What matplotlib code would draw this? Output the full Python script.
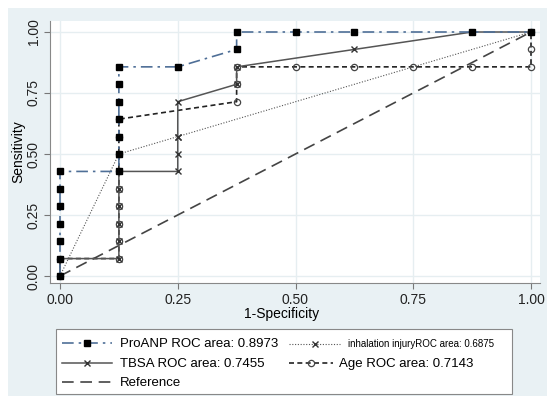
import matplotlib
matplotlib.use("Agg")
import matplotlib.pyplot as plt
from matplotlib.patches import Rectangle

plt.rcParams["font.family"] = ["Liberation Sans", "DejaVu Sans"]

# ---- data ----
s = 1.0 / 14
proanp_x = [0, 0, 0, 0, 0, 0, 0, 0.125, 0.125, 0.125, 0.125, 0.125, 0.125, 0.125, 0.25, 0.375, 0.375, 0.5, 0.625, 0.875, 1.0]
proanp_y = [0, 1*s, 2*s, 3*s, 4*s, 5*s, 6*s, 6*s, 7*s, 8*s, 9*s, 10*s, 11*s, 12*s, 12*s, 13*s, 1.0, 1.0, 1.0, 1.0, 1.0]

tbsa_x = [0, 0, 0.125, 0.125, 0.125, 0.125, 0.125, 0.125, 0.25, 0.25, 0.25, 0.25, 0.375, 0.375, 0.625, 0.875, 1.0]
tbsa_y = [0, 1*s, 1*s, 2*s, 3*s, 4*s, 5*s, 6*s, 6*s, 7*s, 8*s, 10*s, 11*s, 12*s, 13*s, 1.0, 1.0]

inh_x = [0, 0.125, 0.25, 1.0]
inh_y = [0, 7*s, 8*s, 1.0]

age_x = [0, 0, 0.125, 0.125, 0.125, 0.125, 0.125, 0.125, 0.125, 0.125, 0.125, 0.375, 0.375, 0.375, 0.5, 0.625, 0.75, 0.875, 1.0, 1.0, 1.0]
age_y = [0, 1*s, 1*s, 2*s, 3*s, 4*s, 5*s, 6*s, 7*s, 8*s, 9*s, 10*s, 11*s, 12*s, 12*s, 12*s, 12*s, 12*s, 12*s, 13*s, 1.0]

ref_x = [0, 1]
ref_y = [0, 1]

ticks = [0.0, 0.25, 0.5, 0.75, 1.0]
tick_labels = ["0.00", "0.25", "0.50", "0.75", "1.00"]

lab_proanp = "ProANP ROC area: 0.8973"
lab_inh = "inhalation injuryROC area: 0.6875"
lab_tbsa = "TBSA ROC area: 0.7455"
lab_age = "Age ROC area: 0.7143"
lab_ref = "Reference"

W, H = 547, 396

# ---- figure ----
fig = plt.figure(figsize=(W / 100, H / 100), dpi=100)
fig.patch.set_facecolor("white")
fig.add_artist(Rectangle((8 / W, 0), 1 - 8 / W, 1 - 8 / H, transform=fig.transFigure,
                         facecolor="#e9f1f4", edgecolor="none", zorder=-10))

ax = fig.add_axes([50 / W, 1 - 283 / H, 490 / W, 262 / H])
ax.set_facecolor("white")

ax.set_xlim(-10 / 471, 480 / 471)
ax.set_ylim(-7 / 244, 1 + 11 / 244)

for v in ticks:
    ax.axvline(v, color="#e6eef1", lw=1.0, zorder=0)
    ax.axhline(v, color="#e6eef1", lw=1.0, zorder=0)

l_ref, = ax.plot(ref_x, ref_y, color="#444444", lw=1.2, dashes=(7, 4), zorder=2)
l_age, = ax.plot(age_x, age_y, color="#222222", lw=1.2, linestyle=(0, (3, 2)),
                 marker="o", ms=4.5, mfc="none", mec="#444444", mew=0.9, zorder=3)
l_inh, = ax.plot(inh_x, inh_y, color="#555555", lw=0.8, linestyle=(0, (1, 1.5)),
                 marker="x", ms=5, mec="#333333", mew=1.0, zorder=3)
l_tbsa, = ax.plot(tbsa_x, tbsa_y, color="#555555", lw=1.1, linestyle="-",
                  marker="x", ms=5, mec="#333333", mew=1.0, zorder=4)
l_pro, = ax.plot(proanp_x, proanp_y, color="#4f6f97", lw=1.2, linestyle=(0, (7, 3, 1.5, 3)),
                 marker="s", ms=5, mfc="black", mec="black", zorder=5)

ax.set_xticks(ticks)
ax.set_xticklabels(tick_labels)
ax.set_yticks(ticks)
ax.set_yticklabels(tick_labels, rotation=90, va="center")
ax.tick_params(direction="out", length=4, color="#777777", labelsize=10, labelcolor="#222222")
ax.tick_params(axis="y", pad=2.5)
for sp in ["top", "right"]:
    ax.spines[sp].set_visible(False)
for sp in ["left", "bottom"]:
    ax.spines[sp].set_color("#888888")
ax.set_xlabel("1-Specificity", fontsize=10)
ax.set_ylabel("Sensitivity", fontsize=10)
ax.xaxis.set_label_coords((282 - 50) / 490, (283 - 307) / 262)
ax.yaxis.set_label_coords((25 - 50) / 490, 0.5)

# ---- legend: frame + one entry per position ----
fig.add_artist(Rectangle((56 / W, 1 - 394 / H), (512 - 56) / W, (394 - 329) / H,
                         transform=fig.transFigure, facecolor="white",
                         edgecolor="#888888", lw=0.8, zorder=5))

entries = [
    (l_pro, lab_proanp, 62, 344, 50, 8, 9.5),
    (l_tbsa, lab_tbsa, 62, 364, 50, 8, 9.5),
    (l_ref, lab_ref, 62, 383, 50, 8, 9.5),
    (l_inh, lab_inh, 289, 344, 51, 8, 7),
    (l_age, lab_age, 289, 364, 44, 6, 9.5),
]
for h, lab, x0, yc, hl_px, gap_px, fs in entries:
    fs_px = fs * 100 / 72
    lg = fig.legend([h], [lab], loc="center left",
                    bbox_to_anchor=(x0 / W, 1 - yc / H),
                    frameon=False, fontsize=fs, borderpad=0, borderaxespad=0,
                    handlelength=hl_px / fs_px, handletextpad=gap_px / fs_px,
                    numpoints=1)
    lg.set_zorder(6)

fig.savefig("out.png", dpi=100, facecolor=fig.get_facecolor())
